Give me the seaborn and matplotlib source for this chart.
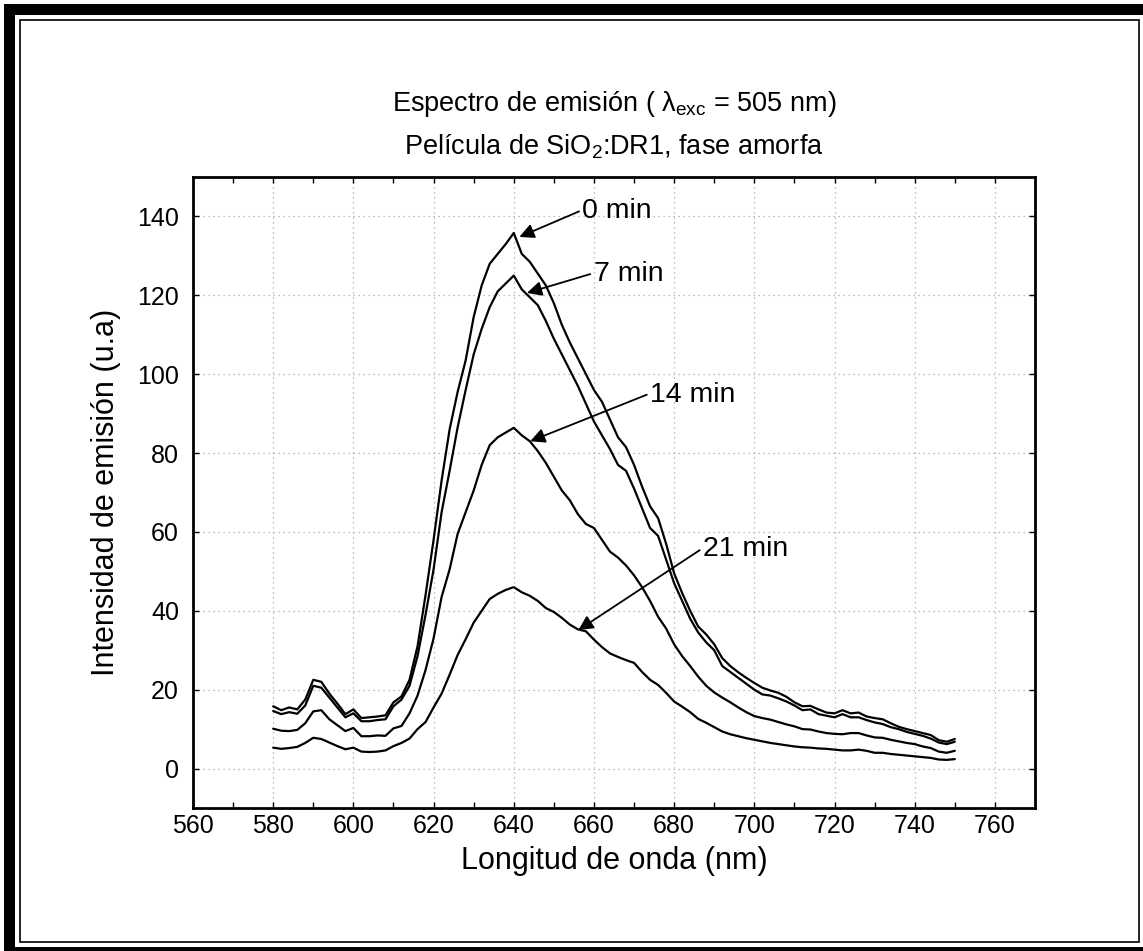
import numpy as np
import pandas as pd
import matplotlib
matplotlib.use("Agg")
import matplotlib.pyplot as plt
from matplotlib.patches import Rectangle
from matplotlib.ticker import MultipleLocator
import seaborn as sns

# ---- data ----
wavelength = list(range(580, 752, 2))

min0 = [15.8, 14.8, 15.5, 15.0, 17.5, 22.5, 22.0, 19.0, 16.5, 13.8,
        15.0, 12.8, 13.0, 13.2, 13.5, 16.8, 18.3, 22.5, 31.0, 44.0,
        58.0, 73.0, 86.0, 95.5, 103.5, 114.5, 122.5, 128.0, 130.5, 133.0,
        135.8, 130.5, 128.5, 125.5, 122.5, 118.0, 112.5, 108.0, 104.0, 100.0,
        96.0, 93.0, 88.5, 84.0, 81.5, 77.0, 71.5, 66.5, 63.5, 57.0,
        49.5, 44.5, 40.0, 36.0, 34.0, 31.5, 28.0, 26.0, 24.4, 23.0,
        21.7, 20.5, 19.8, 19.2, 18.2, 16.8, 15.8, 15.9, 15.0, 14.2,
        14.0, 14.8, 14.0, 14.2, 13.2, 12.8, 12.5, 11.5, 10.6, 10.0,
        9.5, 9.0, 8.5, 7.2, 6.8, 7.5]

min7 = [14.6, 13.8, 14.3, 13.9, 16.0, 21.0, 20.5, 18.0, 15.5, 13.0,
        14.0, 12.0, 12.0, 12.3, 12.5, 15.8, 17.5, 21.0, 28.5, 39.0,
        50.5, 65.0, 75.5, 86.5, 96.0, 105.0, 111.5, 117.0, 121.0, 123.0,
        125.0, 121.5, 119.5, 117.5, 113.5, 109.0, 105.0, 101.0, 97.0, 92.5,
        88.0, 84.5, 81.0, 77.0, 75.5, 71.0, 66.0, 61.0, 59.0, 53.0,
        47.0, 42.5, 38.0, 34.5, 32.0, 30.0, 26.0, 24.5, 23.0, 21.5,
        20.0, 18.8, 18.5, 17.8, 17.0, 16.0, 14.8, 15.0, 13.8, 13.4,
        13.0, 13.8, 13.0, 13.0, 12.3, 11.7, 11.3, 10.5, 10.0, 9.3,
        8.8, 8.3, 7.6, 6.6, 6.2, 6.8]

min14 = [10.1, 9.6, 9.5, 9.8, 11.5, 14.5, 14.8, 12.5, 11.0, 9.5,
         10.3, 8.2, 8.2, 8.4, 8.3, 10.2, 10.8, 14.0, 18.5, 25.0,
         33.0, 43.5, 50.5, 59.5, 65.0, 70.5, 77.0, 82.0, 84.0, 85.2,
         86.4, 84.5, 83.0, 80.5, 77.5, 74.0, 70.5, 68.0, 64.5, 62.0,
         61.0, 58.0, 55.0, 53.5, 51.5, 49.0, 46.0, 42.5, 38.5, 35.5,
         31.5, 28.5, 26.0, 23.3, 21.0, 19.3, 18.0, 16.8, 15.5, 14.3,
         13.3, 12.8, 12.4, 11.8, 11.2, 10.7, 10.0, 9.9, 9.4, 9.0,
         8.8, 8.7, 9.0, 9.0, 8.4, 7.9, 7.8, 7.3, 6.9, 6.5,
         6.2, 5.6, 5.2, 4.3, 4.0, 4.5]

min21 = [5.3, 5.0, 5.2, 5.5, 6.5, 7.8, 7.5, 6.6, 5.7, 4.9,
         5.3, 4.3, 4.2, 4.3, 4.6, 5.7, 6.5, 7.6, 10.0, 11.8,
         15.5, 19.0, 23.8, 28.8, 32.8, 37.0, 40.0, 43.0, 44.3, 45.3,
         46.0, 44.7, 43.8, 42.5, 40.7, 39.7, 38.2, 36.5, 35.3, 34.8,
         32.7, 30.8, 29.2, 28.3, 27.5, 26.8, 24.5, 22.5, 21.2, 19.2,
         17.0, 15.7, 14.3, 12.6, 11.6, 10.5, 9.4, 8.7, 8.2, 7.7,
         7.3, 6.9, 6.5, 6.2, 5.9, 5.6, 5.4, 5.3, 5.1, 5.0,
         4.8, 4.6, 4.6, 4.8, 4.5, 4.0, 4.0, 3.7, 3.5, 3.3,
         3.1, 2.9, 2.7, 2.3, 2.2, 2.4]

series_names = ["0 min", "7 min", "14 min", "21 min"]
label_text = ["0 min", "7 min", "14 min", "21 min"]
label_xy = [(657.1, 141.3), (659.9, 125.3), (674.0, 94.8), (687.2, 55.6)]
arrow_tip = [(641.4, 134.8), (643.3, 120.6), (644.1, 83.0), (656.1, 35.1)]

x_ticks = list(range(560, 780, 20))
y_ticks = list(range(0, 160, 20))

# ---- figure ----
sns.set_theme(style="white")
plt.rcParams["font.family"] = ["Liberation Sans", "DejaVu Sans"]
plt.rcParams["mathtext.fontset"] = "custom"
plt.rcParams["mathtext.rm"] = "Liberation Sans"
plt.rcParams["mathtext.it"] = "Liberation Sans"
plt.rcParams["mathtext.bf"] = "Liberation Sans:bold"
plt.rcParams["text.color"] = "black"
plt.rcParams["axes.labelcolor"] = "black"
plt.rcParams["xtick.color"] = "black"
plt.rcParams["ytick.color"] = "black"

W, H = 1143, 951
fig = plt.figure(figsize=(W / 100, H / 100), dpi=100)
fig.patch.set_facecolor("white")

def px_rect(x0, y0, x1, y1, **kw):
    return Rectangle((x0 / W, 1 - y1 / H), (x1 - x0) / W, (y1 - y0) / H,
                     transform=fig.transFigure, **kw)

# outer frame decoration
fig.patches.append(px_rect(4, 4, 15, 951, facecolor="black", edgecolor="none"))
fig.patches.append(px_rect(4, 4, 1143, 15, facecolor="black", edgecolor="none"))
fig.patches.append(px_rect(4, 947, 1143, 951, facecolor="black", edgecolor="none"))
fig.patches.append(px_rect(20, 20, 1139, 942, facecolor="none", edgecolor="black", linewidth=1.2))

ax = fig.add_axes([193 / W, 1 - 808 / H, (1035 - 193) / W, (808 - 177) / H])

df = pd.concat([
    pd.DataFrame({"Longitud": wavelength, "Intensidad": vals, "serie": name})
    for name, vals in zip(series_names, [min0, min7, min14, min21])
])
sns.lineplot(data=df, x="Longitud", y="Intensidad", hue="serie",
             palette=["black"] * 4, legend=False, linewidth=1.6, ax=ax,
             estimator=None, sort=True)

ax.set_xlim(560, 770)
ax.set_ylim(-10, 150)
ax.set_xticks(x_ticks)
ax.set_yticks(y_ticks)
ax.xaxis.set_minor_locator(MultipleLocator(10))
ax.grid(True, which="major", color="#a8a8a8", linestyle=(0, (1, 3)), linewidth=0.9)
for s in ax.spines.values():
    s.set_color("black")
    s.set_linewidth(2.0)
ax.tick_params(which="both", direction="in", top=True, right=True,
               bottom=True, left=True, color="black")
ax.tick_params(which="major", length=4, width=1.0, labelsize=18)
ax.tick_params(which="minor", length=4, width=1.0)
ax.tick_params(axis="x", which="major", pad=4)
ax.tick_params(axis="y", which="major", pad=10)

ax.set_xlabel("Longitud de onda (nm)", fontsize=22, labelpad=6)
ax.set_ylabel("Intensidad de emisión (u.a)", fontsize=22, labelpad=12)

for txt, xy, tip in zip(label_text, label_xy, arrow_tip):
    ax.annotate(txt, xy=tip, xytext=xy, ha="left", va="center", fontsize=20.5,
                arrowprops=dict(arrowstyle="-|>", color="black", lw=1.3,
                                shrinkA=0, shrinkB=0, mutation_scale=22,
                                relpos=(0, 0.55)))

cx = (193 + 1035) / 2 / W
fig.text(cx, 1 - 104 / H, r"Espectro de emisión ( $\lambda_{\mathrm{exc}}$ = 505 nm)",
         ha="center", va="center", fontsize=19.5)
fig.text(cx, 1 - 147 / H, r"Película de SiO$_2$:DR1, fase amorfa",
         ha="center", va="center", fontsize=19.5)

fig.savefig("out.png", dpi=100, facecolor="white")
